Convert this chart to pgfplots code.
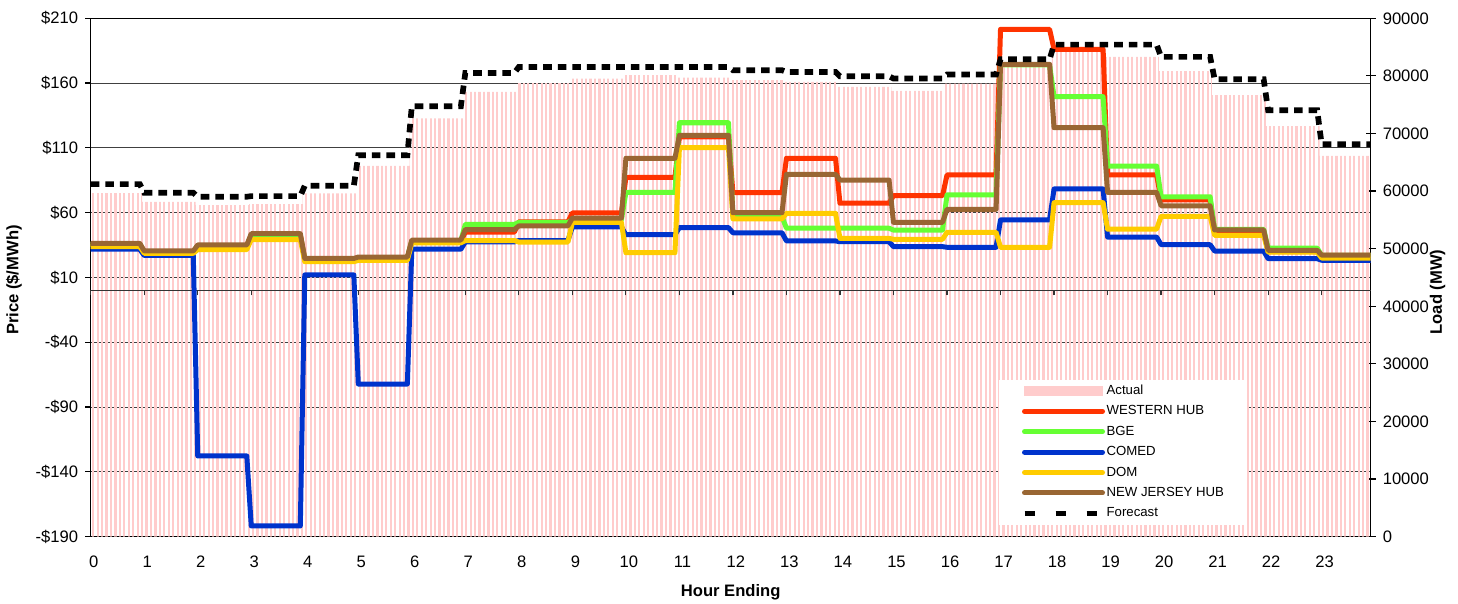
\documentclass[border=0pt]{standalone}
\usepackage{fontspec}
\setmainfont{Liberation Sans}
\usepackage{pgfplots}
\pgfplotsset{compat=1.18}
\usepackage{pgfplotstable}
\usetikzlibrary{patterns.meta}

\definecolor{wh}{RGB}{255,51,0}
\definecolor{bge}{RGB}{102,255,51}
\definecolor{comed}{RGB}{0,51,204}
\definecolor{dom}{RGB}{255,204,0}
\definecolor{njh}{RGB}{153,102,51}
\definecolor{actpink}{RGB}{255,204,204}

\pgfplotstableread{
x wh bge comed dom njh fc
0 35.5 35.5 31.8 33.8 36.4 61210
0.9167 35.5 35.5 31.8 33.8 36.4 61210
1 29.8 29.8 27.0 28.7 30.5 59710
1.9167 29.8 29.8 27.0 28.7 30.5 59710
2 34.3 34.3 -127.7 31.5 35.1 59020
2.9167 34.3 34.3 -127.7 31.5 35.1 59020
3 43.0 42.0 -181.7 39.3 43.8 59130
3.9167 43.0 42.0 -181.7 39.3 43.8 59130
4 24.0 24.0 12.0 22.2 24.7 60930
4.9167 24.0 24.0 12.0 22.2 24.7 60930
5 25.0 25.0 -72.2 23.2 25.8 66240
5.9167 25.0 25.0 -72.2 23.2 25.8 66240
6 38.0 38.3 31.8 36.7 38.9 74740
6.9167 38.0 38.3 31.8 36.7 38.9 74740
7 45.0 51.0 37.5 38.5 47.0 80520
7.9167 45.0 51.0 37.5 38.5 47.0 80520
8 53.0 52.5 38.5 37.3 49.8 81560
8.9167 53.0 52.5 38.5 37.3 49.8 81560
9 59.8 54.5 49.0 52.5 55.9 81560
9.9167 59.8 54.5 49.0 52.5 55.9 81560
10 87.3 75.7 43.0 29.1 102.0 81560
10.9167 87.3 75.7 43.0 29.1 102.0 81560
11 118.5 129.4 48.5 110.2 119.7 81560
11.9167 118.5 129.4 48.5 110.2 119.7 81560
12 75.4 57.0 44.5 55.3 60.0 80980
12.9167 75.4 57.0 44.5 55.3 60.0 80980
13 102.0 48.0 38.2 59.5 89.6 80690
13.9167 102.0 48.0 38.2 59.5 89.6 80690
14 67.3 48.0 37.6 40.2 85.2 79940
14.9167 67.3 48.0 37.6 40.2 85.2 79940
15 73.1 46.6 33.8 39.5 52.6 79540
15.9167 73.1 46.6 33.8 39.5 52.6 79540
16 89.1 73.7 33.3 44.9 62.6 80230
16.9167 89.1 73.7 33.3 44.9 62.6 80230
17 201.5 174.0 54.4 33.3 174.5 82890
17.9167 201.5 174.0 54.4 33.3 174.5 82890
18 186.1 149.5 78.3 67.7 125.6 85430
18.9167 186.1 149.5 78.3 67.7 125.6 85430
19 89.1 96.0 41.2 47.3 75.7 85430
19.9167 89.1 96.0 41.2 47.3 75.7 85430
20 69.8 72.3 35.3 57.2 65.3 83300
20.9167 69.8 72.3 35.3 57.2 65.3 83300
21 46.0 47.2 30.4 42.5 46.7 79420
21.9167 46.0 47.2 30.4 42.5 46.7 79420
22 30.0 32.7 24.5 29.5 31.0 74050
22.9167 30.0 32.7 24.5 29.5 31.0 74050
23 27.0 27.0 23.3 25.0 27.3 68150
23.9167 27.0 27.0 23.3 25.0 27.3 68150
}\prices

\pgfplotstableread{
x act
0 59650
0.96 58150
1.96 57570
2.96 57750
3.96 59600
4.96 64390
5.96 72610
6.96 77230
7.96 78730
8.96 79540
9.96 80120
10.96 79710
11.96 79250
12.96 78960
13.96 78090
14.96 77400
15.96 78670
16.96 81560
17.96 84740
18.96 83300
19.96 80810
20.96 76650
21.96 71270
22.96 66130
23.9167 66130
}\actual

\pgfplotsset{
  base/.style={scale only axis, width=640pt, height=259.2pt, xmin=0, xmax=23.9167,
    tick label style={font=\fontsize{8.3}{10}\selectfont},
    /pgf/number format/assume math mode=true},
  pline/.style={line width=2.5pt, line join=round},
}

\begin{document}
\begin{tikzpicture}
% A: price background (grid, left axis, x labels)
\begin{axis}[base, name=A, ymin=-190, ymax=210,
  ytick={-190,-140,-90,-40,10,60,110,160,210},
  yticklabels={-\$190,-\$140,-\$90,-\$40,\$10,\$60,\$110,\$160,\$210},
  ymajorgrids, grid style={black!75, line width=0.5pt},
  xtick={0,1,...,23},
  xtick style={draw=none},
  ytick pos=left, ytick align=outside, ytick style={black, line width=0.6pt},
  major tick length=2.8pt,
  x axis line style={black!50, line width=0.6pt},
  y axis line style={black, line width=0.7pt},
  xticklabel style={yshift=-6pt, xshift=1.5pt},
  xlabel={\textbf{Hour Ending}}, ylabel={\textbf{Price (\$/MWh)}},
  every axis x label/.style={at={(axis description cs:0.5,-0.1067)}, anchor=center, font=\fontsize{8.3}{10}\selectfont\bfseries},
  every axis y label/.style={at={(axis description cs:-0.0599,0.495)}, rotate=90, anchor=center, font=\fontsize{8.3}{10}\selectfont\bfseries},
]
\end{axis}
% B: load, actual bars, right axis
\begin{axis}[base, ymin=0, ymax=90000, axis y line*=right, axis x line=none,
  ytick={0,10000,...,90000}, scaled y ticks=false,
  yticklabel style={/pgf/number format/.cd, 1000 sep={}},
  ytick align=center, major tick length=5pt, ytick style={black, line width=0.6pt},
  y axis line style={black, line width=0.7pt},
  ylabel={\textbf{Load (MW)}},
  every axis y label/.style={at={(axis description cs:1.0522,0.472)}, rotate=90, anchor=center, font=\fontsize{8.3}{10}\selectfont\bfseries},
]
\addplot[const plot, draw=none, pattern={Lines[angle=90,distance=2.22pt,line width=1.1pt]}, pattern color=actpink] table[x=x,y=act]{\actual} \closedcycle;
\end{axis}
% C: price lines, zero line with ticks
\begin{axis}[base, ymin=-190, ymax=210, axis x line=middle, axis y line=none,
  xtick={0,1,...,23}, xticklabels={}, xtick align=outside, major tick length=2.5pt,
  x axis line style={-, black!80, line width=0.6pt}, xtick style={black!80, line width=0.6pt},
  ytick=\empty]
\addplot[wh, pline] table[x=x,y=wh]{\prices};
\addplot[bge, pline] table[x=x,y=bge]{\prices};
\addplot[comed, pline] table[x=x,y=comed]{\prices};
\addplot[dom, pline] table[x=x,y=dom]{\prices};
\addplot[njh, pline] table[x=x,y=njh]{\prices};
\end{axis}
% D: forecast + legend
\begin{axis}[base, ymin=0, ymax=90000, hide axis,
  legend style={at={(axis description cs:0.709,0.0226)}, anchor=south west,
    draw=none, fill=white, inner xsep=11.7pt, inner ysep=2.6pt,
    font=\fontsize{6.6}{7.5}\selectfont,
    nodes={inner sep=0pt, text height=4.8pt, text depth=1.2pt},
    /tikz/row sep=4.2pt,
    /tikz/every odd column/.append style={column sep=0.8pt}},
  legend cell align=left,
  legend image code/.code={\draw[#1] (0pt,0pt) -- (39pt,0pt);},
]
\addlegendimage{legend image code/.code={\fill[actpink] (0pt,-2.2pt) rectangle (39pt,2.2pt);}}
\addlegendimage{wh, line width=2.5pt, line cap=round}
\addlegendimage{bge, line width=2.5pt, line cap=round}
\addlegendimage{comed, line width=2.5pt, line cap=round}
\addlegendimage{dom, line width=2.5pt, line cap=round}
\addlegendimage{njh, line width=2.5pt, line cap=round}
\addplot[black, line width=2.85pt, dash pattern=on 4.3pt off 3pt,
  legend image code/.code={\draw[black, line width=2.5pt, dash pattern=on 5.35pt off 10.15pt] (0pt,0pt) -- (36.4pt,0pt);}]
  table[x=x,y=fc]{\prices};
\legend{Actual, WESTERN HUB, BGE, COMED, DOM, NEW JERSEY HUB, Forecast}
\end{axis}
\pgfresetboundingbox
\path (A.south west) ++(-45.35pt,-33.65pt) rectangle ++(729pt,302pt);
\end{tikzpicture}
\end{document}
